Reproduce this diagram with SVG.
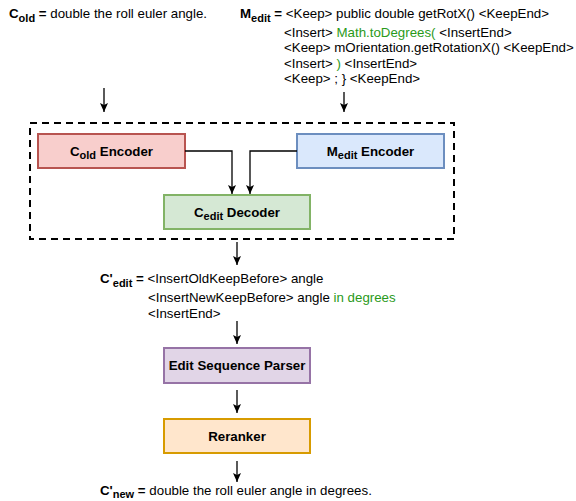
<svg xmlns="http://www.w3.org/2000/svg" width="576" height="501" viewBox="0 0 576 501">
<defs>
<marker id="arr" markerWidth="10" markerHeight="10" viewBox="0 0 10 10" refX="9" refY="5" orient="auto" markerUnits="userSpaceOnUse">
<path d="M0,1 L9,5 L0,9 L2,5 Z" fill="#000"/>
</marker>
<style>
text{font-family:"Liberation Sans",Arial,sans-serif;font-size:13.3px;fill:#000}
.b{font-weight:bold}
.s{font-size:11px}
.g{fill:#2a9a1a}
.box{stroke-width:2}
.lbl{font-weight:bold;text-anchor:middle}
.c{fill:none;stroke:#000;stroke-width:1.3}
</style>
</defs>
<rect x="0" y="0" width="576" height="501" fill="#fff"/>

<g id="cold-text">
<text x="9" y="18"><tspan class="b">C</tspan><tspan class="b s" dy="4">old</tspan><tspan class="b" dy="-4"> =</tspan> double the roll euler angle.</text>
</g>

<g id="medit-text">
<text x="240" y="18"><tspan class="b">M</tspan><tspan class="b s" dy="4">edit</tspan><tspan class="b" dy="-4"> =</tspan> &lt;Keep&gt; public double getRotX() &lt;KeepEnd&gt;</text>
<text x="284" y="36.5">&lt;Insert&gt; <tspan class="g">Math.toDegrees(</tspan> &lt;InsertEnd&gt;</text>
<text x="284" y="52">&lt;Keep&gt; mOrientation.getRotationX() &lt;KeepEnd&gt;</text>
<text x="284" y="67.7">&lt;Insert&gt; <tspan class="g">)</tspan> &lt;InsertEnd&gt;</text>
<text x="284" y="83.3">&lt;Keep&gt; ; } &lt;KeepEnd&gt;</text>
</g>

<g id="model">
<rect x="30" y="123" width="424" height="116" fill="none" stroke="#000" stroke-width="2" stroke-dasharray="7 5"/>
</g>

<g id="cold-encoder">
<rect class="box" x="38" y="134" width="147" height="34" fill="#f8cecc" stroke="#b85450"/>
<text class="lbl" x="111.5" y="155.5">C<tspan class="s" dy="3.5">old</tspan><tspan dy="-3.5"> Encoder</tspan></text>
</g>

<g id="medit-encoder">
<rect class="box" x="297" y="134" width="147" height="34" fill="#dae8fc" stroke="#6c8ebf"/>
<text class="lbl" x="370.5" y="155.5">M<tspan class="s" dy="3.5">edit</tspan><tspan dy="-3.5"> Encoder</tspan></text>
</g>

<g id="cedit-decoder">
<rect class="box" x="164" y="195" width="146" height="34" fill="#d5e8d4" stroke="#82b366"/>
<text class="lbl" x="237" y="216.5">C<tspan class="s" dy="3.5">edit</tspan><tspan dy="-3.5"> Decoder</tspan></text>
</g>

<g id="cedit-text">
<text x="100" y="283"><tspan class="b">C'</tspan><tspan class="b s" dy="4">edit</tspan><tspan class="b" dy="-4"> =</tspan> &lt;InsertOldKeepBefore&gt; angle</text>
<text x="148" y="301.5">&lt;InsertNewKeepBefore&gt; angle <tspan class="g">in degrees</tspan></text>
<text x="148" y="317.5">&lt;InsertEnd&gt;</text>
</g>

<g id="parser">
<rect class="box" x="164" y="348" width="146" height="35" fill="#e1d5e7" stroke="#9673a6"/>
<text class="lbl" x="237" y="370">Edit Sequence Parser</text>
</g>

<g id="reranker">
<rect class="box" x="164" y="419" width="146" height="34" fill="#ffe6cc" stroke="#d79b00"/>
<text class="lbl" x="237" y="440.5">Reranker</text>
</g>

<g id="cnew-text">
<text x="100" y="494.5"><tspan class="b">C'</tspan><tspan class="b s" dy="3">new</tspan><tspan class="b" dy="-3"> =</tspan> double the roll euler angle in degrees.</text>
</g>

<g id="connectors">
<path class="c" d="M104,88 V112" marker-end="url(#arr)"/>
<path class="c" d="M344,92 V112" marker-end="url(#arr)"/>
<path class="c" d="M185,151 H232 V194" marker-end="url(#arr)"/>
<path class="c" d="M297,151 H250 V194" marker-end="url(#arr)"/>
<path class="c" d="M237,242 V265" marker-end="url(#arr)"/>
<path class="c" d="M237,321 V344" marker-end="url(#arr)"/>
<path class="c" d="M237,390 V413" marker-end="url(#arr)"/>
<path class="c" d="M237,461 V482" marker-end="url(#arr)"/>
</g>
</svg>
